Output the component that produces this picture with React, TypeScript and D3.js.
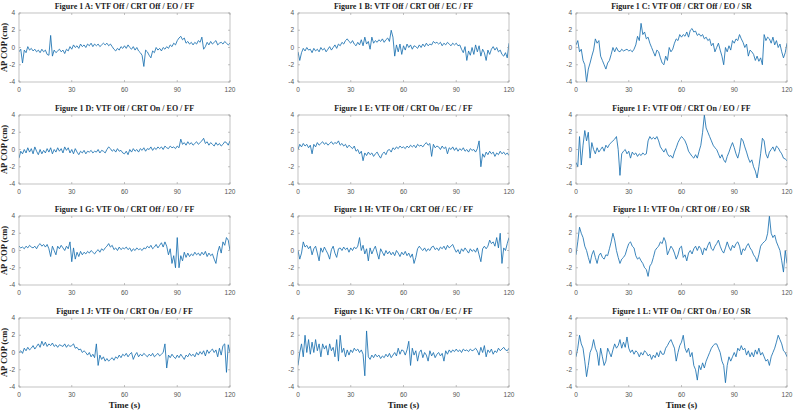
import React from "react";
import * as d3 from "d3";

// AP COP traces, one value per second (t = 0..120)
const seriesA = [
  -0.5, -0.2, -1.8, -0.3, -0.6, 0.1, -0.3, -0.1, -0.4, -0.2,
  -0.5, -0.3, -0.6, -0.2, -0.5, -0.3, -0.8, -0.9, 1.4, -1.0,
  -0.3, -0.6, -0.4, -0.2, -0.5, -0.3, -0.7, -0.2, -0.4, 0.1,
  -0.2, 0.3, 0.0, 0.2, -0.1, 0.4, 0.1, 0.3, 0.0, 0.4,
  0.2, 0.5, 0.1, 0.4, 0.2, 0.4, 0.1, 0.3, 0.5, 0.3,
  0.5, 0.2, 0.4, 0.1, -0.2, -0.4, -0.1, -0.3, 0.1, -0.1,
  0.2, -0.1, 0.3, 0.0, -0.2, 0.1, -0.3, 0.0, -0.4, -0.6,
  -0.9, -2.2, -0.3, -0.5, -0.9, -1.2, -0.4, -0.6, 0.0, -0.3,
  -0.1, -0.4, 0.0, -0.2, 0.1, -0.1, 0.3, 0.1, 0.5, 0.3,
  0.8, 1.1, 1.3, 0.9, 1.1, 0.5, 0.7, 0.4, 0.6, 0.3,
  0.6, 0.4, 0.8, 0.6, 1.2, -0.2, 0.1, 0.6, 0.3, 0.7,
  0.4, 0.6, 0.8, 0.3, 0.5, 0.6, 0.4, 0.7, 0.5, 0.3,
  0.5,
];

const seriesB = [
  -0.5, -1.5, -0.6, -0.1, -0.4, 0.0, -0.3, -0.2, -0.6, -0.1,
  -0.4, -0.2, -0.5, 0.0, -0.3, -0.1, -0.5, -0.2, 0.1, -0.3,
  0.0, 0.3, -0.1, 0.4, 0.2, 0.6, 0.4, 0.8, 1.0, 0.7,
  0.5, 0.8, 0.4, 0.2, 0.6, 0.3, 0.9, 0.2, 1.2, 0.4,
  0.7, -0.2, 1.2, 0.5, 0.8, 0.6, 0.9, 0.7, 1.0, 0.6,
  0.9, 1.1, 0.7, 2.0, 1.2, -1.0, 0.3, -0.5, 0.4, -0.8,
  0.2, -0.3, 0.4, 0.0, 0.3, -0.2, 0.2, 0.1, -0.1, 0.3,
  0.0, 0.4, 0.1, 0.5, 0.2, 0.4, 0.3, 0.7, 0.5, 0.6,
  0.4, 0.6, 0.2, 0.5, 0.3, 0.6, 0.4, 0.2, 0.5, 0.3,
  0.5, 0.2, 0.3, -0.2, -0.6, 0.1, -1.5, -0.4, -0.9, 0.0,
  -0.8, 0.3, -0.5, 0.2, -1.0, -0.2, -0.6, -1.5, -0.3, -0.8,
  -0.2, 0.1, -0.3, 0.0, -0.5, -0.3, -0.8, -1.0, -0.6, -1.2,
  0.5,
];

const seriesC = [
  0.3, 0.8, -0.5, -0.2, -1.5, -2.0, -4.0, -2.5, -1.8, -1.0,
  -0.3, 1.0, 0.5, 0.8, -1.0, -1.5, -2.0, -2.5, -1.8, -1.5,
  -0.8, 0.0, -0.5, 0.0, -0.4, -0.5, -0.2, -0.4, -0.3, -0.2,
  -0.4, -0.3, -0.5, -0.2, 0.3, 1.3, 0.8, 2.8, 1.5, 1.8,
  1.0, 1.2, 0.5, 0.0, -0.5, -1.0, -0.3, -0.5, -1.2, -1.8,
  -2.0, -1.0, -1.5, 0.0, -0.5, -0.2, 0.5, 1.0, 0.8, 1.5,
  1.2, 1.5, 1.3, 1.8, 1.2, 2.0, 2.2, 1.8, 1.9, 1.4,
  1.6, 1.3, 1.5, 1.0, 1.2, 0.8, 1.0, 0.2, 0.5, -0.5,
  0.0, 0.5, -0.3, -1.0, -2.0, 0.0, -0.5, 0.2, -0.3, 0.8,
  0.5, 1.0, 0.8, 1.5, 1.0, 0.6, 0.0, 0.4, -1.0, -0.3,
  -0.5, -0.8, -1.5, -1.0, -1.6, -1.2, -2.0, 1.5, 0.8, 1.2,
  1.0, 0.5, 1.2, 0.3, 0.8, 0.0, 0.4, -0.5, -1.2, -0.6,
  0.5,
];

const seriesD = [
  -1.0, -0.2, -0.5, 0.0, -0.4, 0.2, -0.3, 0.1, -0.5, 0.3,
  -0.2, -0.6, 0.0, -0.5, -0.1, -0.4, 0.1, -0.3, 0.2, -0.5,
  0.0, -0.3, 0.2, -0.2, 0.1, -0.4, 0.3, -0.1, 0.2, -0.4,
  0.0, -0.5, 0.1, -0.3, -0.6, -0.2, -0.4, -0.1, -0.5, -0.2,
  -0.3, -0.1, -0.4, -0.2, -0.3, 0.0, -0.4, -0.1, -0.2, -0.4,
  0.0, 0.3, 0.1, -0.2, 0.0, -0.3, 0.1, -0.2, -0.1, -0.4,
  -0.5, -0.2, -0.6, 0.0, -0.3, 0.1, -0.2, 0.0, -0.3, 0.1,
  -0.1, 0.2, -0.2, 0.1, 0.0, 0.3, -0.1, 0.2, 0.0, 0.3,
  0.1, 0.3, 0.0, 0.4, 0.2, 0.1, 0.4, 0.2, 0.3, 0.1,
  0.4, 0.2, 1.2, 0.6, 0.8, 0.5, 0.9, 0.6, 0.8, 0.5,
  0.7, 0.9, 0.6, 0.8, 1.0, 1.3, 0.7, 0.9, 0.5, 0.8,
  0.6, 0.4, 0.8, 0.5, 0.7, 0.4, 0.6, 0.9, 0.8, 0.5,
  1.0,
];

const seriesE = [
  0.0, 0.6, 0.3, 0.7, 0.4, 0.6, 0.2, 0.5, -0.5, 0.6,
  0.3, 0.8, 0.5, 0.7, 0.9, 0.6, 0.8, 0.5, 0.7, 0.9,
  0.6, 0.8, 0.7, 1.0, 0.5, 0.7, 0.4, 0.6, 0.2, 0.5,
  0.3, 0.1, 0.4, -0.2, 0.0, -0.5, -0.2, -1.3, -0.4, -0.7,
  -0.3, -0.6, -0.4, -0.8, -0.5, -0.3, -0.7, -1.0, -0.5, -0.3,
  -0.6, -0.1, 0.0, -0.3, 0.2, 0.0, 0.3, 0.1, 0.4, 0.2,
  0.3, 0.1, 0.4, 0.2, 0.5, 0.3, 0.5, 0.2, 0.6, 0.4,
  0.5, 0.3, 0.6, 0.8, 0.5, 0.7, -0.8, 0.6, 0.2, 0.4,
  0.3, 0.0, 0.4, 0.1, 0.3, -0.5, 0.2, 0.0, 0.3, -0.1,
  0.2, -0.2, 0.1, -0.1, 0.2, -0.2, 0.0, -0.3, 0.1, -0.1,
  0.0, -0.3, 0.1, 1.0, -2.0, -0.5, -0.9, -0.3, -0.6, -0.2,
  -0.5, -0.3, -0.8, -0.4, -0.6, -0.2, -0.5, -0.3, -0.6, -0.4,
  -0.7,
];

const seriesF = [
  -1.5, -2.0, 1.5, -1.8, 0.5, 2.2, 1.0, 2.0, -1.0, 0.8,
  0.0, -0.5, 0.2, -0.3, 0.0, 0.3, -0.2, 0.5, 0.2, 0.6,
  0.8, 1.0, 1.2, 1.5, 0.0, -3.0, -0.5, -0.2, 0.0, -0.5,
  -0.2, -1.0, -0.3, -0.6, -0.4, -0.8, -0.5, -0.7, -0.4, -0.6,
  -0.5, 1.0, 1.5, 1.2, 1.4, 1.2, 1.5, 1.0, 0.3, 0.0,
  -0.3, 0.1, -0.5, -0.8, -0.7, -1.0, -0.3, 0.2, 0.8, 1.2,
  1.5, 1.3, 1.0, 0.5, -0.2, -0.5, -0.8, -1.0, -0.6, -1.0,
  -0.2, 0.5, 2.0, 4.0, 2.5, 2.0, 1.5, 1.0, 0.5, 0.2,
  0.0, -0.5, -1.0, -0.6, -1.2, -1.5, -0.8, -0.3, 0.3, 0.8,
  0.2, -0.5, -1.0, -0.2, 1.3, 1.0, 0.3, -0.3, -1.0, -1.5,
  -1.2, -2.0, -2.5, -3.3, -2.0, -0.5, 1.3, 1.0, -0.5, -1.0,
  -0.3, 0.0, 0.3, -0.2, 0.4, 0.2, -0.2, -0.5, -1.0, -1.1,
  -1.3,
];

const seriesG = [
  0.5, 0.3, 0.4, 0.2, 0.5, 0.3, 0.6, 0.4, 0.3, 0.5,
  0.2, 0.6, 0.8, 0.5, 0.7, 0.4, 0.7, 0.2, -0.7, 0.5,
  0.0, -0.5, 0.5, 0.2, 0.6, 0.3, 0.0, 0.5, 0.2, 1.0,
  -1.3, 0.3, -1.0, -0.2, -0.7, -0.1, -0.5, -0.2, -0.4, -0.1,
  -0.3, 0.0, -0.2, -0.4, -0.1, 0.1, -0.2, 0.2, 0.0, 0.3,
  0.5, 0.8, 0.4, 0.6, 0.1, 0.3, 0.0, 0.4, 0.1, 0.3,
  0.2, 0.4, 0.1, 0.3, -0.1, 0.2, 0.0, 0.3, 0.1, 0.2,
  0.0, 0.3, 0.2, 0.5, 0.3, 0.6, 0.2, 0.4, 0.7, 0.3,
  0.6, 0.9, 0.4, 1.0, 0.5, -0.5, 0.2, -1.5, -0.6, -2.0,
  1.5, -2.0, -0.6, -1.2, -0.2, -0.8, -0.3, -0.7, -0.4, -0.6,
  -0.2, -0.5, -0.3, -0.6, -0.2, -0.5, -0.1, -0.7, -0.3, -0.6,
  -0.4, -1.0, -1.5, -0.2, 0.5, -0.3, 1.0, 0.6, 1.5, 1.2,
  0.0,
];

const seriesH = [
  0.0, -1.0, -0.3, 1.0, 0.4, 0.6, 0.2, 0.5, -0.5, 0.2,
  0.5, -0.3, -1.2, 0.3, -0.2, 0.4, 0.0, -0.4, -1.0, 0.1,
  0.5, -0.3, -0.8, 0.2, 0.3, 0.0, 0.4, 0.1, 0.3, -0.2,
  0.3, 0.0, 0.4, 0.2, 0.5, 1.5, 0.0, 0.6, -0.4, 0.2,
  -1.2, 0.3, -0.4, 0.1, 0.5, -0.3, -1.0, 0.2, -0.2, -0.6,
  0.0, -0.4, -0.1, -0.5, -0.2, -0.6, 0.0, -0.3, -0.7, -0.2,
  -0.5, -0.1, -0.6, -0.3, -0.8, -0.4, -1.5, -0.8, 0.2, 0.5,
  0.2, 0.0, 0.3, -0.1, 0.2, 0.0, 0.4, 0.5, 0.1, 0.3,
  0.0, 0.4, 0.2, 0.5, 0.1, 0.6, 0.3, 0.5, 0.7, 0.2,
  -0.2, 0.1, -0.4, 0.2, -0.1, 0.3, 0.0, -0.3, 0.2, -0.1,
  0.1, -0.2, 0.3, -0.5, -1.3, 0.2, 0.5, 0.2, 0.5, 1.2,
  0.8, 1.0, 0.5, 1.5, 0.3, 2.0, -1.5, 0.3, 0.0, 0.8,
  1.5,
];

const seriesI = [
  -0.5, 1.0, 2.7, 2.0, 1.5, 0.5, 0.0, -0.8, -1.5, -0.5,
  0.0, -0.8, -1.5, -0.6, -0.3, -0.8, -1.0, -0.5, -0.6, 0.2,
  1.0, 2.0, 1.2, 0.0, -0.8, -1.5, -1.0, -0.8, -0.5, 0.2,
  0.8, 1.0, 0.5, 0.3, -0.6, -1.0, -0.8, -1.2, -1.5, -2.0,
  -2.2, -3.0, -1.8, -1.5, -0.8, 0.0, 0.3, 0.5, 1.0, 0.8,
  1.5, 1.0, -0.5, 0.0, 0.5, 0.2, -0.3, -1.0, -0.5, 0.3,
  0.5, -0.8, -0.5, -1.2, -0.3, 0.0, -0.4, 0.2, 0.5, 0.0,
  0.5, 0.2, -0.5, 0.3, 0.0, 0.6, 1.0, 0.2, 0.0, 0.5,
  0.8, 1.2, 0.5, 0.0, -0.3, 0.3, 1.0, 0.4, 0.0, 0.6,
  0.3, 0.8, 1.0, 0.5, -0.5, 0.2, 0.0, 0.5, 0.8, 0.3,
  0.0, -0.5, -0.8, -1.3, -0.5, 0.5, 0.8, 1.0, 1.2, 2.0,
  4.0, 2.0, 1.5, 1.8, 1.0, 0.5, 0.0, -1.2, -2.5, 0.0,
  -1.5,
];

const seriesJ = [
  0.0, 0.2, -0.1, 0.5, 0.2, 0.6, 0.3, 0.5, 0.8, 0.4,
  0.7, 1.0, 0.6, 1.3, 0.8, 1.2, 0.7, 1.0, 0.8, 1.1,
  0.7, 0.9, 0.6, 0.9, 0.8, 0.7, 1.0, 0.6, 0.9, 0.7,
  0.8, 1.0, 0.5, 0.6, 0.3, 0.4, 0.0, 0.2, 0.0, -0.3,
  0.0, -0.5, -0.2, -0.6, 1.0, -1.5, -0.3, -0.8, -0.5, -1.0,
  -0.7, -1.0, -0.8, -0.6, -0.9, -0.5, -0.7, -0.3, -0.6, -0.2,
  -0.4, -0.1, -0.5, -0.2, 0.0, -0.8, -0.3, 0.0, -0.5, -0.2,
  -0.4, -0.1, -0.3, -0.5, -0.2, -0.4, -0.1, -0.5, -0.3, -0.1,
  -0.4, -0.2, 0.0, 1.0, -1.8, -0.3, -0.6, -0.2, -0.5, -0.7,
  -0.3, -0.6, -0.2, -0.5, -0.8, -0.3, -0.5, -0.1, -0.4, -0.2,
  -0.5, 0.0, -0.3, 0.1, -0.2, 0.2, -0.4, 0.3, -0.1, 0.2,
  0.4, 0.0, 0.3, -0.5, 0.5, -0.3, 0.8, 1.0, -2.3, 0.9,
  0.0,
];

const seriesK = [
  -1.5, 0.0, 1.0, -0.5, 2.0, 0.0, 1.5, -0.2, 1.2, 0.0,
  1.5, 0.2, 1.0, -0.5, 1.0, 0.4, 0.8, -0.3, 1.0, 0.2,
  0.6, -0.5, 1.5, -1.0, 2.0, 0.0, 0.5, -0.5, 0.3, -0.3,
  0.3, 0.0, 0.5, 0.2, 0.4, 0.0, 0.3, -0.2, -2.7, 2.5,
  -0.5, -0.8, -0.3, -0.6, -0.2, -0.5, -0.3, -0.7, -0.4, -0.6,
  -0.2, -0.5, -0.1, -0.6, -0.3, 0.0, -0.4, 0.5, -0.2, 0.3,
  0.2, -0.3, 0.3, 1.3, -1.5, 0.5, -0.3, 0.2, -1.0, 0.0,
  0.3, -0.6, 0.0, -0.3, -1.0, 0.2, -0.4, 0.0, -0.6, -0.2,
  0.0, -0.4, -0.1, -1.0, 0.2, -0.2, 0.3, 0.0, 0.3, 0.1,
  0.4, 0.1, 0.3, 0.0, 0.4, 0.2, 0.3, 0.1, 0.4, 0.2,
  0.3, 0.5, 0.2, -0.3, 0.6, 0.0, 0.8, -0.5, 0.3, 0.0,
  0.4, -0.2, 0.2, 0.0, 0.5, 0.2, 0.4, 0.6, 0.3, 0.2,
  0.5,
];

const seriesL = [
  -0.5, 0.5, 2.0, 1.0, 0.5, -1.0, -2.8, -1.5, 0.0, 0.5,
  1.5, 0.5, 0.0, -1.5, 0.5, -0.5, -1.5, -1.0, 0.5, 0.0,
  -0.5, 0.3, 1.0, 0.5, 0.8, 1.5, 0.5, 1.2, 0.6, 1.8,
  0.5, 0.0, 0.3, -0.2, 0.2, 0.0, -0.5, 0.0, -0.3, 0.2,
  0.0, -0.4, -0.2, -0.8, -0.3, -0.6, 0.0, -0.5, 0.2, -0.2,
  -0.2, 0.5, 0.8, 1.2, 1.5, 1.0, 0.5, -1.0, 0.0, 0.8,
  1.2, 2.0, 0.5, 0.0, 0.5, -0.5, 0.0, -1.5, -2.0, -3.2,
  -1.5, -2.0, -1.2, -1.8, -1.0, -0.5, 0.0, 0.5, 0.8, 1.0,
  1.0, 0.5, 0.0, -1.0, -1.5, -3.5, -1.5, -0.5, -1.0, -0.5,
  0.0, -0.5, 0.5, 0.2, 0.8, 0.3, 0.5, -0.3, 0.2, -0.5,
  0.0, -0.5, 0.3, -0.2, 0.5, -0.3, 0.0, -0.5, -1.0, -0.8,
  -1.5, -0.5, 0.0, 0.5, 1.2, 2.0, 1.5, 1.0, 0.2, 0.0,
  -0.5,
];

const titles = [
  "Figure 1 A: VTF Off / CRT Off / EO / FF",
  "Figure 1 B: VTF Off / CRT Off / EC / FF",
  "Figure 1 C: VTF Off / CRT Off / EO / SR",
  "Figure 1 D: VTF Off / CRT On / EO / FF",
  "Figure 1 E: VTF Off / CRT On / EC / FF",
  "Figure 1 F: VTF Off / CRT On / EO / FF",
  "Figure 1 G: VTF On / CRT Off / EO / FF",
  "Figure 1 H: VTF On / CRT Off / EC / FF",
  "Figure 1 I: VTF On / CRT Off / EO / SR",
  "Figure 1 J: VTF On / CRT On / EO / FF",
  "Figure 1 K: VTF On / CRT On / EC / FF",
  "Figure 1 L: VTF On / CRT On / EO / SR",
];
const allSeries = [
  seriesA, seriesB, seriesC, seriesD, seriesE, seriesF,
  seriesG, seriesH, seriesI, seriesJ, seriesK, seriesL,
];
const xTicks = [0, 30, 60, 90, 120];
const yTicks = [-4, -2, 0, 2, 4];

const colLeft = [19, 298, 576];
const rowTop = [13, 115, 216, 318];
const pw = 211;
const ph = 69;

const serif = "'Liberation Serif', 'Times New Roman', serif";
const sans = "'Liberation Sans', Arial, sans-serif";

function Panel({ idx }: { idx: number }) {
  const col = idx % 3;
  const row = Math.floor(idx / 3);
  const left = colLeft[col];
  const top = rowTop[row];
  const data = allSeries[idx];

  const x = d3.scaleLinear().domain([0, 120]).range([0, pw]);
  const y = d3.scaleLinear().domain([-4, 4]).range([ph, 0]);
  const line = d3
    .line<number>()
    .x((d, i) => x(i))
    .y((d) => y(d));

  return (
    <g transform={`translate(${left},${top})`}>
      <defs>
        <clipPath id={`clip${idx}`}>
          <rect x={0} y={0} width={pw} height={ph} />
        </clipPath>
      </defs>
      <rect x={0} y={0} width={pw} height={ph} fill="#fff" />
      <path
        d={line(data) || ""}
        fill="none"
        stroke="#1a70b0"
        strokeWidth={0.85}
        strokeLinejoin="round"
        clipPath={`url(#clip${idx})`}
      />
      <rect x={0} y={0} width={pw} height={ph} fill="none" stroke="#9a9a9a" strokeWidth={0.6} />
      {xTicks.map((t) => (
        <g key={"x" + t}>
          <line x1={x(t)} x2={x(t)} y1={ph} y2={ph - 2} stroke="#9a9a9a" strokeWidth={0.6} />
          <line x1={x(t)} x2={x(t)} y1={0} y2={2} stroke="#9a9a9a" strokeWidth={0.6} />
          <text
            x={x(t)}
            y={ph + 10}
            textAnchor="middle"
            fontFamily={sans}
            fontSize={6.5}
            fill="#555"
          >
            {t}
          </text>
        </g>
      ))}
      {yTicks.map((t) => (
        <g key={"y" + t}>
          <line x1={0} x2={2} y1={y(t)} y2={y(t)} stroke="#9a9a9a" strokeWidth={0.6} />
          <line x1={pw} x2={pw - 2} y1={y(t)} y2={y(t)} stroke="#9a9a9a" strokeWidth={0.6} />
          <text
            x={-4}
            y={y(t) + 2.2}
            textAnchor="end"
            fontFamily={sans}
            fontSize={6.5}
            fill="#555"
          >
            {t}
          </text>
        </g>
      ))}
      <text
        x={pw / 2}
        y={-4}
        textAnchor="middle"
        fontFamily={serif}
        fontWeight="bold"
        fontSize={8}
        fill="#222"
      >
        {titles[idx]}
      </text>
      {col === 0 && (
        <text
          transform={`translate(${-12},${ph / 2}) rotate(-90)`}
          textAnchor="middle"
          fontFamily={serif}
          fontWeight="bold"
          fontSize={8.5}
          fill="#222"
        >
          AP COP (cm)
        </text>
      )}
      {row === 3 && (
        <text
          x={pw / 2}
          y={ph + 21}
          textAnchor="middle"
          fontFamily={serif}
          fontWeight="bold"
          fontSize={9}
          fill="#222"
        >
          Time (s)
        </text>
      )}
    </g>
  );
}

export default function App() {
  return (
    <svg
      width={800}
      height={413}
      style={{ position: "absolute", left: 0, top: 0, background: "#fff" }}
    >
      <rect width={800} height={413} fill="#fff" />
      {titles.map((t, i) => (
        <Panel key={t} idx={i} />
      ))}
    </svg>
  );
}
